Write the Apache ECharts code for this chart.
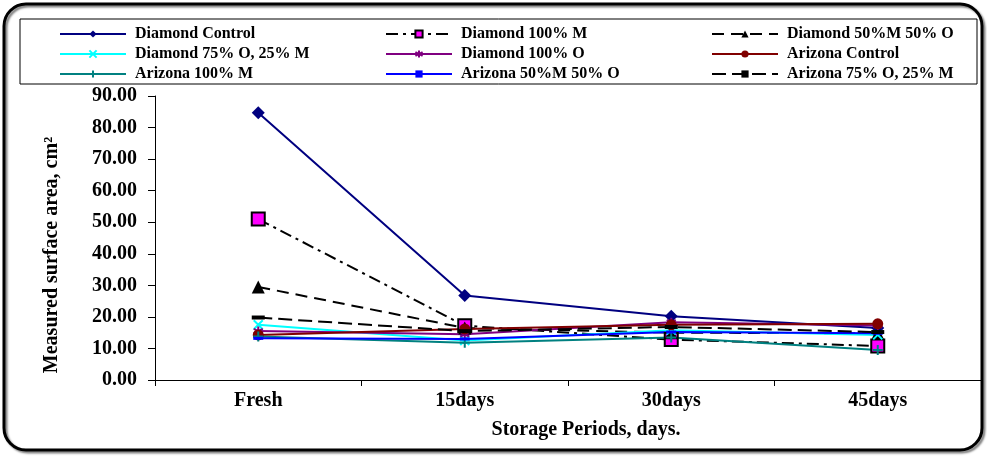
<!DOCTYPE html>
<html><head><meta charset="utf-8">
<script src="https://cdn.jsdelivr.net/npm/echarts@6/dist/echarts.min.js"></script>
<style>html,body{margin:0;padding:0;background:#fff}#c{width:987px;height:456px}</style>
</head><body><div id="c"></div>
<script>
const categories = ['Fresh', '15days', '30days', '45days'];
const yTicks = [0, 10, 20, 30, 40, 50, 60, 70, 80, 90];
const diamondControl = [84.7, 26.8, 20.2, 16.5];
const diamond100M = [51.0, 17.2, 12.8, 10.8];
const diamond50M50O = [29.5, 16.5, 15.0, 14.8];
const diamond75O25M = [17.5, 12.5, 15.8, 14.3];
const diamond100O = [15.5, 14.5, 18.3, 17.3];
const arizonaControl = [14.3, 16.2, 17.5, 17.8];
const arizona100M = [13.8, 11.8, 13.5, 9.5];
const arizona50M50O = [13.2, 13.0, 15.2, 14.8];
const arizona75O25M = [19.8, 15.5, 16.8, 15.2];

const names = ['Diamond Control', 'Diamond 100% M', 'Diamond 50%M 50% O',
  'Diamond 75% O, 25% M', 'Diamond 100% O', 'Arizona Control',
  'Arizona 100% M', 'Arizona 50%M 50% O', 'Arizona 75% O, 25% M'];

const FONT = '"Liberation Serif", "Times New Roman", serif';
const chart = echarts.init(document.getElementById('c'));

function line(name, data, color, dash, symbol, symbolSize, itemStyle) {
  return {
    name, type: 'line', data,
    symbol, symbolSize,
    lineStyle: { color, width: 2, type: dash },
    itemStyle: Object.assign({ color }, itemStyle || {}),
    emphasis: { disabled: true },
    animation: false
  };
}
const xPath = 'path://M0,0L10,10M10,0L0,10';
const plusPath = 'path://M5,0L5,10M0,5L10,5';
const starPath = 'path://M5,0L5,10M0,2.5L10,7.5M0,7.5L10,2.5';

const legendBase = {
  orient: 'vertical', top: 21, itemWidth: 66, itemHeight: 9, itemGap: 4,
  textStyle: { fontFamily: FONT, fontWeight: 'bold', fontSize: 16, color: '#000', lineHeight: 16, padding: [0, 0, 0, 4] }
};

chart.setOption({
  animation: false,
  backgroundColor: '#fff',
  graphic: [
    { type: 'rect', shape: { x: 4, y: 4, width: 978, height: 446, r: 22 }, style: { fill: 'none', stroke: '#000', lineWidth: 3, shadowColor: 'rgba(0,0,0,0.5)', shadowBlur: 2, shadowOffsetX: 2, shadowOffsetY: 2 }, z: -1 },
    { type: 'rect', shape: { x: 20, y: 19, width: 957, height: 65 }, style: { fill: 'none', stroke: '#000', lineWidth: 1 }, z: -1 }
  ],
  legend: [
    Object.assign({ left: 54, data: [names[0], names[3], names[6]] }, legendBase),
    Object.assign({ left: 380, data: [names[1], names[4], names[7]] }, legendBase),
    Object.assign({ left: 706, data: [names[2], names[5], names[8]] }, legendBase)
  ],
  grid: { left: 155, right: 6, top: 96, bottom: 76 },
  xAxis: {
    type: 'category', data: categories, boundaryGap: true,
    axisLine: { lineStyle: { color: '#000', width: 1 } },
    axisTick: { show: true, length: 6, lineStyle: { color: '#000' } },
    axisLabel: { fontFamily: FONT, fontWeight: 'bold', fontSize: 20, color: '#000', margin: 11 },
    name: 'Storage Periods, days.', nameLocation: 'middle', nameGap: 40,
    nameTextStyle: { fontFamily: FONT, fontWeight: 'bold', fontSize: 20, color: '#000', padding: [0, 0, 0, 36] }
  },
  yAxis: {
    type: 'value', min: yTicks[0], max: yTicks[yTicks.length - 1], interval: yTicks[1] - yTicks[0],
    splitLine: { show: false },
    axisLine: { show: true, lineStyle: { color: '#000', width: 1 } },
    axisTick: { show: true, length: 7, lineStyle: { color: '#000' } },
    axisLabel: { fontFamily: FONT, fontWeight: 'bold', fontSize: 20, color: '#000', margin: 18, formatter: v => v.toFixed(2) },
    name: 'Measured surface area, cm²', nameLocation: 'middle', nameGap: 93,
    nameTextStyle: { fontFamily: FONT, fontWeight: 'bold', fontSize: 20, color: '#000', padding: [0, 34, 0, 0] }
  },
  series: [
    line(names[0], diamondControl, '#000080', 'solid', 'diamond', 13),
    line(names[1], diamond100M, '#000', [12, 5, 3, 5], 'rect', 13, { color: '#FF00FF', borderColor: '#000', borderWidth: 2 }),
    line(names[2], diamond50M50O, '#000', [12, 7], 'triangle', 13, { color: '#000' }),
    line(names[3], diamond75O25M, '#00FFFF', 'solid', xPath, 9, { color: '#00FFFF', borderColor: '#00FFFF', borderWidth: 2 }),
    line(names[4], diamond100O, '#800080', 'solid', starPath, 9, { color: '#800080', borderColor: '#800080', borderWidth: 2 }),
    line(names[5], arizonaControl, '#800000', 'solid', 'circle', 11),
    line(names[6], arizona100M, '#008080', 'solid', plusPath, 10, { color: '#008080', borderColor: '#008080', borderWidth: 2 }),
    line(names[7], arizona50M50O, '#0000FF', 'solid', 'rect', [10, 3]),
    line(names[8], arizona75O25M, '#000', [14, 6], 'rect', [13, 4], { color: '#000' })
  ]
});
</script></body></html>
